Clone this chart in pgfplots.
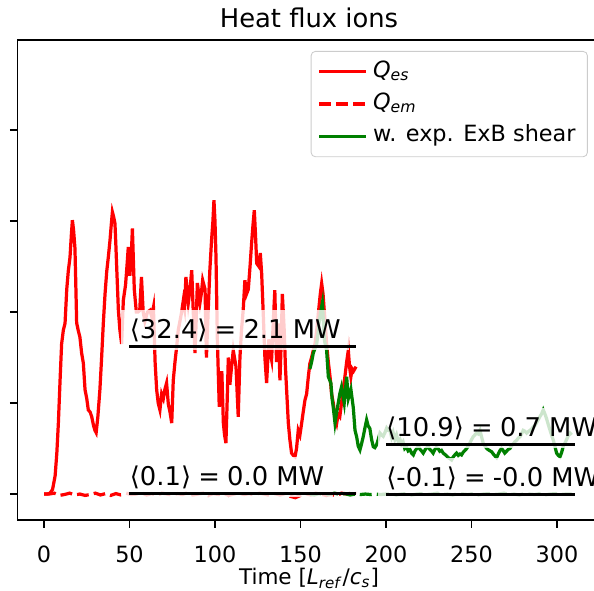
\documentclass[border=0pt]{standalone}
\usepackage{fontspec}
\setmainfont{DejaVu Sans}
\usepackage{pgfplots}
\pgfplotsset{compat=1.18}
\definecolor{mplgreen}{RGB}{0,128,0}
\begin{document}
\begin{tikzpicture}
\useasboundingbox (-8.14pt,-33.0pt) rectangle (268.07pt,241.8pt);
\clip (-8.14pt,-33.0pt) rectangle (268.07pt,241.8pt);
\begin{axis}[
  at={(0pt,0pt)}, anchor=south west,
  scale only axis, width=271.1pt, height=223.2pt,
  xmin=-15.5, xmax=325.5, ymin=-5.7, ymax=99.8,
  xtick={0,50,100,150,200,250,300},
  ytick={0,20,40,60,80}, yticklabels={},
  tick pos=left, tick align=outside,
  major tick length=3.5pt,
  every tick/.style={black, line width=0.8pt},
  axis line style={line width=0.8pt},
  /pgf/number format/assume math mode=true,
  xticklabel style={anchor=base, yshift=-16.3pt, inner sep=0pt, font=\fontsize{10.4}{12}\selectfont},
  title={Heat flux ions},
  title style={at={(0.5,1)}, anchor=base, yshift=0pt, inner sep=0pt, font=\fontsize{12}{14}\selectfont},
  xlabel={Time [\textit{L}\textsubscript{\textit{ref}}/\textit{c}\textsubscript{\textit{s}}]},
  xlabel style={at={(0.5,0)}, anchor=base, yshift=-29.8pt, inner sep=0pt},
  legend cell align=left,
  legend image code/.code={\draw[#1] (0pt,0pt) -- (21.8pt,0pt);},
  legend style={at={(rel axis cs:1,1)}, anchor=north east, xshift=-5.9pt, yshift=-5.1pt,
    draw=black!20, rounded corners=2pt, fill=white, fill opacity=0.8, text opacity=1,
    inner xsep=3pt, inner ysep=2pt, row sep=0pt, font=\fontsize{10.4}{12}\selectfont,
    nodes={inner sep=2.5pt, text height=7.6pt, text depth=2.4pt}},
]
\addplot[red, line width=1.5pt] coordinates {
(0,0) (2,0) (3.5,0.2) (5,1) (6.5,4) (7.5,9) (8.4,15.6) (9.5,26) (10.3,33) (11.3,36) (12.3,37.5) (13.3,45) (14.2,49) (15.2,52) (16,57) (16.6,60.2) (17.3,58) (18.1,54) (18.6,46) (19.1,37.6) (20,36) (21,34.5) (22,31) (23,28.8) (24,22.9) (25,21) (25.9,18.5) (27,18) (27.9,17) (29,15) (29.8,14) (30.5,13.5) (31.5,17) (32.7,23) (33.7,30) (34.7,37.6) (35.7,44) (36.7,49) (37.6,52) (38.6,55.8) (39.3,59) (40,62) (40.7,61) (41.5,59.5) (42,55) (42.5,50) (43.5,40.4) (44.4,36) (45.4,33) (46.4,42.6) (47.7,46) (48.5,50) (49.3,54.3) (50.2,48) (51,52) (51.7,58.4) (52.8,45) (54,40) (55,40) (56,40.4) (57,47.7) (58,40) (59,38) (60.5,40) (62,40.4) (63,39) (64,41) (65,28.8) (65.9,22.9) (66.8,20) (67.8,18.5) (68.8,22) (69.8,21) (70.7,23) (71.7,24.4) (72.7,19.8) (73.7,18) (74.7,15.6) (75.6,25) (76.6,29) (77.6,32.4) (78.5,36) (79.5,38) (80.5,40) (81.5,42.6) (82.2,41) (83,47.7) (84.4,42) (85.4,45) (86.4,49.2) (87.3,40) (88.3,31) (89,38) (89.7,46.4) (90.5,44) (91.2,42) (92,44) (92.8,47) (94.2,45) (95,30) (96,40) (97,49.2) (98,55.8) (98.8,60) (99.4,64.6) (100,60) (100.6,52) (101.4,33.8) (102.5,19.2) (103.2,24) (104,27) (104.9,15.6) (105.6,13) (106.4,11.2) (107.1,20) (107.8,30) (108.7,24) (109.7,28) (110.7,31.6) (112.3,28) (113,22) (113.6,17) (114.6,30) (115.5,36) (116.5,40.4) (117.5,47) (118.5,44) (119.5,45) (120.5,50) (121.4,55) (122.2,59) (123,62.4) (123.7,57) (124.4,50.7) (125.7,50) (126.5,53) (127.3,48.5) (128.3,39) (129.2,30) (130.2,24.4) (131.5,34) (132.3,31) (133.1,29.5) (134,37) (135,44.8) (136,29) (137,37.5) (138,25) (138.7,33) (139.4,44) (140.5,36) (141.2,28) (141.9,22.9) (142.9,15.6) (143.8,12) (144.8,9) (145.8,8.5) (146.8,8.2) (147.7,10) (148.7,14) (149.7,13) (150.7,15.6) (151.6,18) (152.6,20.6) (153.6,22) (154.6,25.8) (155.5,28.7) (156.5,30) (157.5,31.6) (158.5,33) (159.5,36) (160.8,41) (161.6,44) (162.4,46.3) (163.2,44) (163.9,40.4) (164.6,37) (165.3,33) (166.3,29) (167.3,25.8) (168.2,22) (169.2,20) (170.2,17) (171.2,15.6) (172,17.5) (173,17) (174,20) (175,23) (176,25.8) (177,29) (178,31.6) (178.7,28) (179.5,25.8) (180.2,27.5) (181,27) (182.5,28)
};
\addlegendentry{\textit{Q}\textsubscript{\textit{es}}}
\addplot[red, line width=1.5pt, dash pattern=on 5.55pt off 2.4pt] coordinates {
(0,0) (3,0) (6,0.2) (9,-0.3) (12,-0.1) (15,0.2) (18,-0.2) (21,0) (24,-0.3) (27,-0.1) (30,0.2) (33,-0.2) (36,0.1) (39,-0.3) (42,0.1) (45,-0.2) (48,0.2) (51,-0.1) (54,0) (57,0.3) (60,-0.2) (63,0.1) (66,-0.3) (69,0.2) (72,0) (75,-0.2) (78,0.1) (81,-0.1) (84,0.3) (87,-0.2) (90,0) (93,0.2) (96,-0.3) (99,0.1) (102,-0.1) (105,0.2) (108,-0.3) (111,0) (114,0.2) (117,-0.1) (120,0.1) (123,-0.2) (126,0.2) (129,0) (132,-0.3) (135,0.1) (138,-0.2) (141,0.1) (144,-0.5) (147,-0.8) (150,-0.3) (153,0.1) (156,-0.2) (159,0.2) (162,0) (165,-0.3) (168,-0.1) (171,-0.4) (174,0.2) (177,0) (180,0.2) (182.5,0.1)
};
\addlegendentry{\textit{Q}\textsubscript{\textit{em}}}
\addplot[mplgreen, line width=1.5pt] coordinates {
(155.5,27.5) (156.5,29) (157.5,31) (158.5,32) (159.5,33) (160.2,35) (160.8,37.4) (161.8,40) (162.8,42) (163.4,38) (164,33.8) (165.3,31.6) (166.3,25.8) (167.8,24.4) (168.5,21) (169.2,19) (170.2,15.6) (171.2,18) (172.1,20) (173,22) (174,23.5) (175.6,20) (177,25.8) (178,21) (179.5,23) (180.9,19) (181.9,14) (182.9,12.5) (183.8,10.5) (184.8,9.7) (185.7,11) (186.7,12.6) (187.7,14.5) (188.7,16.3) (189.6,15) (190.6,14.4) (191.6,12) (192.6,10.4) (193.5,10.2) (194.5,10.8) (195.5,12) (196.5,13.4) (197.4,13) (198.4,12.7) (199.4,13.5) (200.4,14.5) (201.3,14) (202.3,14) (203.3,12.5) (204.2,13.5) (205.2,12) (206.2,13) (207.2,11.5) (208.2,12) (209.1,11) (210,11.5) (211,10) (212,10.4) (213,9.5) (214,9.8) (215,9) (216,8.6) (217,9.5) (218,10) (219,10.5) (220,9.8) (221,9.4) (221.8,9) (223,9.8) (224,10.2) (224.7,10.4) (225.7,9.8) (226.6,9.5) (227.6,9) (228.6,9.8) (229.5,10.2) (230.5,10) (231.5,9.4) (232.5,9.6) (233.5,9) (234.5,8.7) (235.4,8.4) (236.4,8) (237.4,7.8) (238.4,7.5) (239.4,8.2) (240.3,8.6) (241.3,9) (242.3,8.5) (243.3,8.8) (244.2,8.6) (245.2,9.2) (246.2,9.6) (247.2,10) (248.2,10.6) (249.1,11.2) (250,11.9) (251,12.6) (252,13) (253,13.4) (254,13.2) (255,14) (256,12.5) (257,11) (258,10.5) (259,10) (260,9.7) (260.9,9.5) (261.8,9.3) (262.8,8.8) (263.7,8.4) (264.7,8) (265.7,8.8) (266.6,9.5) (267.6,10) (268.5,9.6) (269.5,9) (270.5,9.4) (271.5,9.8) (272.5,10) (273.5,10.6) (274.4,11) (275.4,11.5) (276.4,11.8) (277.4,12.3) (278.4,12.6) (279.3,13.2) (280.3,14) (281.3,13.8) (282.3,13.4) (283.2,13.7) (284.2,14) (285.2,14.3) (286,14.7) (287,15) (288,15.6) (289,16.3) (290,17) (291,17.6) (292,18.5) (293,17.6) (294,16.5) (295,15.2) (296,14) (297,12.8) (298,11.7) (299,10.2) (299.8,9) (300.8,8.5) (301.8,8.2) (302.8,9.2) (303.7,10.5) (304.7,11.2) (305.7,12) (306.6,12.8) (307.6,13.4) (308.6,13)
};
\addlegendentry{w. exp. ExB shear}
\addplot[mplgreen, line width=1.5pt, dash pattern=on 5.55pt off 2.4pt, forget plot] coordinates {
(155.5,0) (158,-0.2) (161,0.1) (164,-0.3) (167,0) (170,0.2) (173,-0.1) (176,0.1) (179,-0.2) (182,0) (185,-0.1) (188,0) (191,-0.1) (194,0) (197,-0.1) (200,0) (203,0.1) (206,-0.2) (209,0) (212,0.1) (215,-0.2) (218,0) (221,0.1) (224,-0.1) (227,0) (230,0.2) (233,-0.1) (236,0) (239,-0.2) (242,0.1) (245,0) (248,-0.1) (251,0.1) (254,-0.2) (257,0) (260,0.1) (263,-0.1) (266,0) (269,0.2) (272,-0.1) (275,0) (278,-0.2) (281,0.1) (284,0) (287,-0.1) (290,0.1) (293,-0.2) (296,0) (299,0.1) (302,-0.1) (305,0) (308.6,0)
};
\tikzset{meanlab/.style={anchor=base west, xshift=-4pt, yshift=3.9pt, inner sep=4pt, fill=white, fill opacity=0.8, text opacity=1, font=\fontsize{12}{14}\selectfont}}
\node[meanlab] at (axis cs:50,32.4) {⟨32.4⟩\hspace{0.28em}=\hspace{0.28em}2.1 MW};
\node[meanlab] at (axis cs:50,0.1) {⟨0.1⟩\hspace{0.28em}=\hspace{0.28em}0.0 MW};
\node[meanlab] at (axis cs:200,10.9) {⟨10.9⟩\hspace{0.28em}=\hspace{0.28em}0.7 MW};
\node[meanlab] at (axis cs:200,-0.1) {⟨-0.1⟩\hspace{0.28em}=\hspace{0.28em}-0.0 MW};
\addplot[black, line width=1.5pt, forget plot] coordinates {(50,32.4) (182.5,32.4)};
\addplot[black, line width=1.5pt, forget plot] coordinates {(50,0.1) (182.5,0.1)};
\addplot[black, line width=1.5pt, forget plot] coordinates {(200,10.9) (310.5,10.9)};
\addplot[black, line width=1.5pt, forget plot] coordinates {(200,-0.1) (310.5,-0.1)};
\end{axis}
\end{tikzpicture}
\end{document}
